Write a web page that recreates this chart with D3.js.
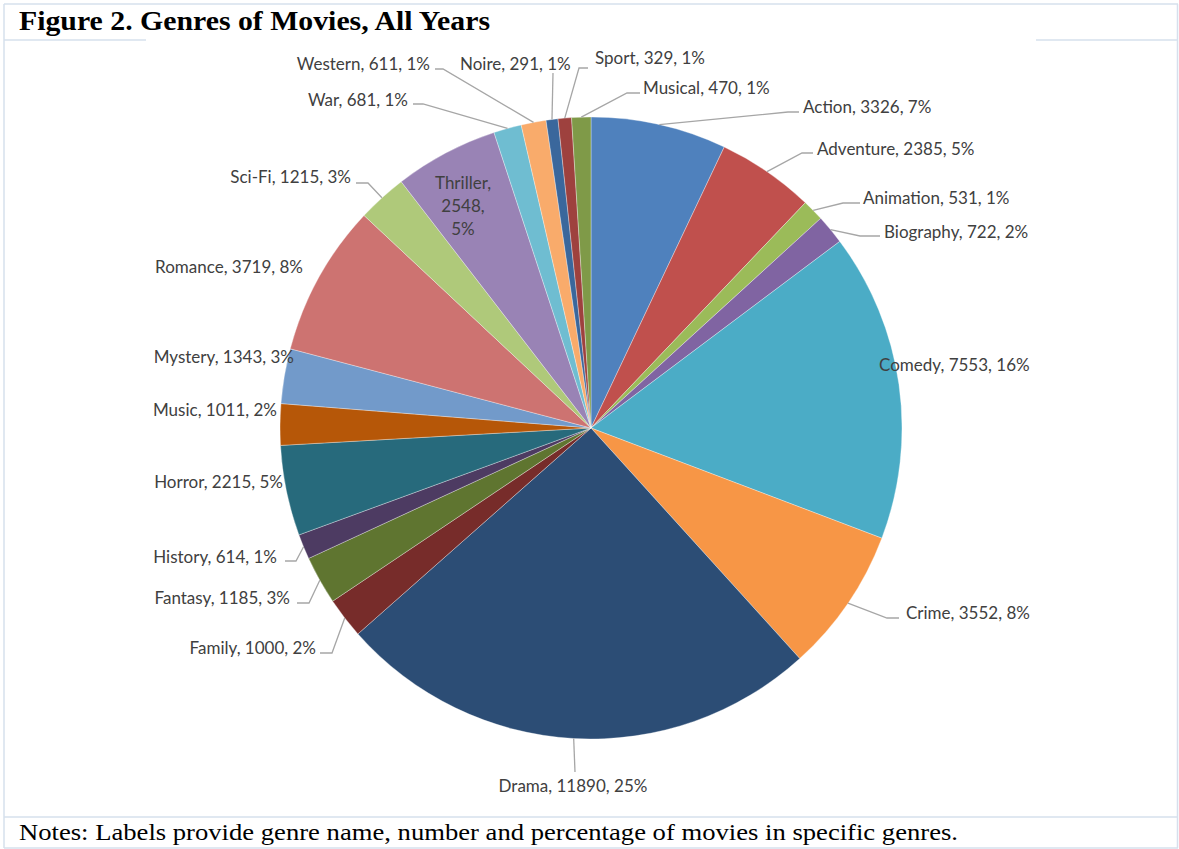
<!DOCTYPE html>
<html>
<head>
<meta charset="utf-8">
<script src="https://cdn.jsdelivr.net/npm/d3@7"></script>
<style>
  html, body { margin: 0; padding: 0; background: #fff; }
  svg { display: block; }
</style>
</head>
<body>
<svg id="chart" width="1179" height="849"></svg>
<script>
// Genre counts, clockwise from 12 o'clock
const genres = ["Action", "Adventure", "Animation", "Biography", "Comedy", "Crime", "Drama",
  "Family", "Fantasy", "History", "Horror", "Music", "Mystery", "Romance", "Sci-Fi",
  "Thriller", "War", "Western", "Noire", "Sport", "Musical"];
const counts = [3326, 2385, 531, 722, 7553, 3552, 11890,
  1000, 1185, 614, 2215, 1011, 1343, 3719, 1215,
  2548, 681, 611, 291, 329, 470];
const sliceColors = ["#4F81BD", "#C0504D", "#9BBB59", "#8064A2", "#4BACC6", "#F79646", "#2C4D75",
  "#772C2A", "#5F7530", "#4D3B62", "#276A7C", "#B65708", "#729ACA", "#CD7371", "#AFC97A",
  "#9983B5", "#6FBDD1", "#F9AB6B", "#3A679C", "#9E413E", "#7F9A48"];

const titleText = "Figure 2. Genres of Movies, All Years";
const notesText = "Notes: Labels provide genre name, number and percentage of movies in specific genres.";

// Label placement: text anchor point, optional leader join point and elbow x
const labelLayout = {
  "Action":    { x: 803, y: 107, a: "start", j: [799, 112], e: 788 },
  "Adventure": { x: 817, y: 149, a: "start", j: [813, 153], e: 802 },
  "Animation": { x: 863, y: 198, a: "start", j: [860, 203], e: 843 },
  "Biography": { x: 884, y: 232, a: "start", j: [880, 236], e: 860 },
  "Comedy":    { x: 879, y: 365, a: "start" },
  "Crime":     { x: 906, y: 613, a: "start", j: [899, 618], e: 887 },
  "Drama":     { x: 573, y: 786, a: "middle", j: [575, 772], e: 575 },
  "Family":    { x: 316, y: 648, a: "end", j: [320, 653], e: 332 },
  "Fantasy":   { x: 290, y: 598, a: "end", j: [297, 603], e: 309 },
  "History":   { x: 277, y: 557, a: "end", j: [285, 561], e: 296 },
  "Horror":    { x: 283, y: 482, a: "end" },
  "Music":     { x: 277, y: 410, a: "end" },
  "Mystery":   { x: 294, y: 357, a: "end" },
  "Romance":   { x: 303, y: 267, a: "end" },
  "Sci-Fi":    { x: 351, y: 177, a: "end", j: [356, 183], e: 368 },
  "Thriller":  { x: 463, y: 206, a: "middle", stacked: true },
  "War":       { x: 408, y: 100, a: "end", j: [413, 104], e: 423 },
  "Western":   { x: 430, y: 64, a: "end", j: [435, 69], e: 443 },
  "Noire":     { x: 460, y: 64, a: "start", j: [553, 73], e: 553 },
  "Sport":     { x: 595, y: 58, a: "start", j: [588, 68], e: 579 },
  "Musical":   { x: 643, y: 88, a: "start", j: [640, 93], e: 627 }
};

const svg = d3.select("#chart");
const frameColor = "#D6E0ED";

// Table frame around title, chart and notes
const frame = svg.append("g").attr("stroke", frameColor).attr("stroke-width", 1.5).attr("fill", "none");
frame.append("line").attr("x1", 4).attr("x2", 1178).attr("y1", 4).attr("y2", 4);
frame.append("line").attr("x1", 4).attr("x2", 4).attr("y1", 4).attr("y2", 848);
frame.append("line").attr("x1", 1177.5).attr("x2", 1177.5).attr("y1", 4).attr("y2", 848);
frame.append("line").attr("x1", 4).attr("x2", 146).attr("y1", 40).attr("y2", 40);
frame.append("line").attr("x1", 1036).attr("x2", 1178).attr("y1", 40).attr("y2", 40);
frame.append("line").attr("x1", 4).attr("x2", 1178).attr("y1", 817).attr("y2", 817);
frame.append("line").attr("x1", 4).attr("x2", 1178).attr("y1", 848).attr("y2", 848);

svg.append("text")
  .attr("x", 19).attr("y", 30)
  .attr("font-family", "'Liberation Serif', 'Times New Roman', serif")
  .attr("font-weight", "bold").attr("font-size", 26.5)
  .attr("textLength", 471).attr("lengthAdjust", "spacingAndGlyphs")
  .attr("fill", "#000")
  .text(titleText);

svg.append("text")
  .attr("x", 19).attr("y", 840)
  .attr("font-family", "'Liberation Serif', 'Times New Roman', serif")
  .attr("font-size", 23)
  .attr("textLength", 939).attr("lengthAdjust", "spacingAndGlyphs")
  .attr("fill", "#000")
  .text(notesText);

// Pie
const cx = 591, cy = 428, R = 311;
const data = genres.map((g, i) => ({ genre: g, value: counts[i], color: sliceColors[i] }));
const total = d3.sum(counts);

const pie = d3.pie().sort(null).value(d => d.value);
const arcs = pie(data);
const arc = d3.arc().innerRadius(0).outerRadius(R);
const edge = d3.arc().innerRadius(R).outerRadius(R);

const g = svg.append("g").attr("transform", `translate(${cx},${cy})`);
g.selectAll("path.slice")
  .data(arcs)
  .join("path")
  .attr("class", "slice")
  .attr("d", arc)
  .attr("fill", d => d.data.color)
  .attr("stroke", "#ffffff")
  .attr("stroke-opacity", 0.55)
  .attr("stroke-width", 0.6);

// Leader lines
const leaders = svg.append("g")
  .attr("fill", "none").attr("stroke", "#A6A6A6").attr("stroke-width", 1.3);
arcs.forEach(d => {
  const L = labelLayout[d.data.genre];
  if (!L || !L.j) return;
  const p = edge.centroid(d);
  const start = [cx + p[0], cy + p[1]];
  leaders.append("polyline")
    .attr("points", [start, [L.e, L.j[1]], L.j].map(q => q.join(",")).join(" "));
});

// Data labels: name, count, percentage
const labelFont = "Lato, 'Open Sans', sans-serif";
const labels = svg.append("g")
  .attr("font-family", labelFont).attr("font-size", 17).attr("fill", "#404040");
arcs.forEach(d => {
  const L = labelLayout[d.data.genre];
  const pct = Math.round(d.data.value / total * 100) + "%";
  const parts = [d.data.genre + ",", d.data.value + ",", pct];
  if (L.stacked) {
    const t = labels.append("text").attr("text-anchor", "middle");
    parts.forEach((s, k) => {
      t.append("tspan").attr("x", L.x).attr("y", L.y + (k - 1) * 23).attr("dy", "0.35em").text(s);
    });
  } else {
    labels.append("text")
      .attr("x", L.x).attr("y", L.y).attr("dy", "0.35em")
      .attr("text-anchor", L.a)
      .text(`${d.data.genre}, ${d.data.value}, ${pct}`);
  }
});
</script>
</body>
</html>
